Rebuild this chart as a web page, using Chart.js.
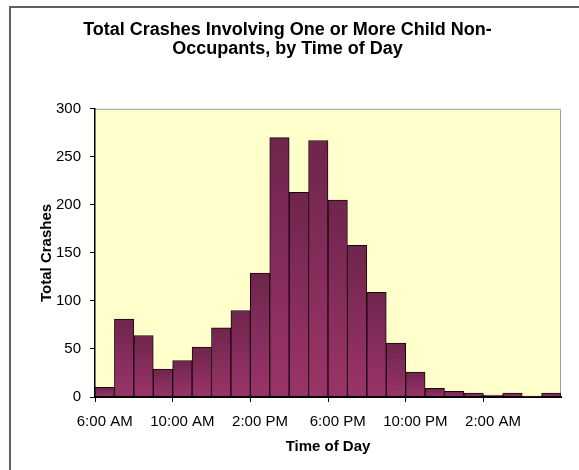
<!DOCTYPE html>
<html>
<head>
<meta charset="utf-8">
<script src="https://cdn.jsdelivr.net/npm/chart.js@4"></script>
<style>
  html, body { margin: 0; padding: 0; background: #fff; }
  #wrap { width: 579px; height: 470px; }
</style>
</head>
<body>
<div id="wrap"><canvas id="chart" width="579" height="470"></canvas></div>
<script>
// hourly buckets, starting at 6 AM
const hours = [
  "6:00 AM", "7:00 AM", "8:00 AM", "9:00 AM", "10:00 AM", "11:00 AM",
  "12:00 PM", "1:00 PM", "2:00 PM", "3:00 PM", "4:00 PM", "5:00 PM",
  "6:00 PM", "7:00 PM", "8:00 PM", "9:00 PM", "10:00 PM", "11:00 PM",
  "12:00 AM", "1:00 AM", "2:00 AM", "3:00 AM", "4:00 AM", "5:00 AM"
]
const crashes = [
  10, 81, 64, 29, 38, 52, 72, 90, 129, 270, 213, 267,
  205, 158, 109, 56, 26, 9, 6, 4, 2, 4, 1, 4
]
const yTicks = [0, 50, 100, 150, 200, 250, 300]

const FONT = "'Liberation Sans', Arial, sans-serif"

// white page, outer frame, yellow plot area
const backdrop = {
  id: "backdrop",
  beforeDraw(chart) {
    const { ctx, chartArea: a } = chart
    ctx.save()
    ctx.fillStyle = "#fff"
    ctx.fillRect(0, 0, chart.width, chart.height)
    ctx.strokeStyle = "#5f5f5f"
    ctx.lineWidth = 2
    ctx.strokeRect(10, 7, 700, 700)
    ctx.fillStyle = "#ffffcc"
    ctx.fillRect(a.left, a.top, a.right - a.left, a.bottom - a.top)
    ctx.strokeStyle = "#a0a0a0"
    ctx.lineWidth = 1
    ctx.beginPath()
    ctx.moveTo(a.left, a.top + 0.5)
    ctx.lineTo(a.right - 0.5, a.top + 0.5)
    ctx.lineTo(a.right - 0.5, a.bottom)
    ctx.stroke()
    ctx.restore()
  },
}

new Chart(document.getElementById("chart"), {
  type: "bar",
  data: {
    labels: hours,
    datasets: [
      {
        data: crashes,
        backgroundColor: (c) => {
          const chart = c.chart
          if (!chart.chartArea || c.type !== "data") return "#993366"
          const y = chart.scales.y
          const top = y.getPixelForValue(c.parsed.y)
          const bottom = y.getPixelForValue(0)
          if (!isFinite(top) || bottom - top < 1) return "#993366"
          const g = chart.ctx.createLinearGradient(0, top, 0, bottom)
          g.addColorStop(0, "#6f254c")
          g.addColorStop(0.45, "#832c5a")
          g.addColorStop(1, "#9b3467")
          return g
        },
        borderColor: "#1a0510",
        borderWidth: 1,
        borderSkipped: false,
        barPercentage: 1,
        categoryPercentage: 1,
      },
    ],
  },
  options: {
    responsive: false,
    animation: false,
    layout: { padding: { left: 0, right: 4, top: 0, bottom: 0 } },
    plugins: {
      legend: { display: false },
      tooltip: { enabled: false },
      title: {
        display: true,
        text: ["Total Crashes Involving One or More Child Non-", "Occupants, by Time of Day"],
        color: "#000",
        font: { family: FONT, size: 18, weight: "bold", lineHeight: 1.05 },
        padding: { top: 21, bottom: 50 },
      },
    },
    scales: {
      x: {
        offset: true,
        afterFit: (s) => { s.height = 73 },
        grid: {
          offset: true,
          drawOnChartArea: false,
          tickLength: 5,
          tickColor: (c) => (c.index % 4 === 0 ? "#000" : "rgba(0,0,0,0)"),
        },
        border: { color: "#000", width: 2 },
        ticks: {
          autoSkip: false,
          maxRotation: 0,
          minRotation: 0,
          padding: 11,
          color: "#000",
          font: { family: FONT, size: 15 },
          callback: (v, i) => (i % 4 === 0 ? hours[i] : ""),
        },
        title: {
          display: true,
          text: "Time of Day",
          color: "#000",
          font: { family: FONT, size: 15, weight: "bold", lineHeight: 1.2 },
          padding: { top: 0, bottom: 14 },
        },
      },
      y: {
        min: 0,
        max: 300,
        afterFit: (s) => { s.width = 95 },
        afterBuildTicks: (s) => { s.ticks = yTicks.map((v) => ({ value: v })) },
        grid: { drawOnChartArea: false, tickLength: 5, tickColor: "#000" },
        border: { color: "#000", width: 1.5 },
        ticks: {
          padding: 9,
          color: "#000",
          font: { family: FONT, size: 15 },
        },
        title: {
          display: true,
          text: "Total Crashes",
          color: "#000",
          font: { family: FONT, size: 15, weight: "bold", lineHeight: 1.2 },
          padding: { top: 38, bottom: 0 },
        },
      },
      // empty right-hand strip so the plot ends where the reference does
      gap: {
        position: "right",
        afterFit: (s) => { s.width = 14 },
        grid: { display: false },
        border: { display: false },
        ticks: { display: false },
      },
    },
  },
  plugins: [backdrop],
})
</script>
</body>
</html>
